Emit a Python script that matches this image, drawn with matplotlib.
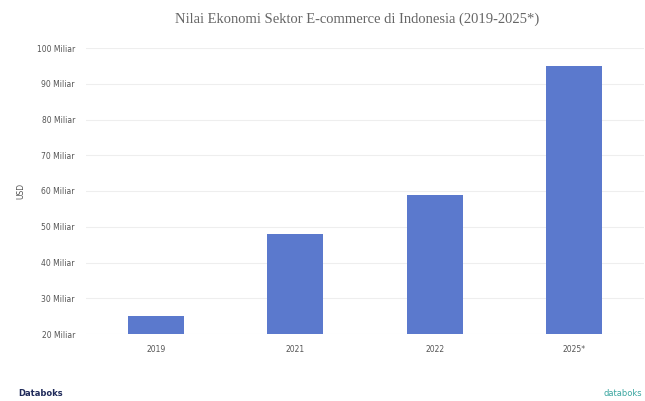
import matplotlib
matplotlib.use("Agg")
import matplotlib.pyplot as plt

years = ["2019", "2021", "2022", "2025*"]
values = [25, 48, 59, 95]
ytick_vals = [20, 30, 40, 50, 60, 70, 80, 90, 100]
ytick_labels = ["20 Miliar", "30 Miliar", "40 Miliar", "50 Miliar", "60 Miliar",
                "70 Miliar", "80 Miliar", "90 Miliar", "100 Miliar"]
title = "Nilai Ekonomi Sektor E-commerce di Indonesia (2019-2025*)"
ylabel = "USD"

fig = plt.figure(figsize=(6.45, 4.01), dpi=100)
ax = fig.add_axes([86/645, 67/401, 558/645, 286/401])
x = list(range(len(years)))
ax.bar(x, values, width=0.4, color="#5b79cd", zorder=3, bottom=0)
ax.set_xlim(-0.5, len(years) - 0.5)
ax.set_ylim(20, 100)
ax.set_yticks(ytick_vals)
ax.set_yticklabels(ytick_labels)
ax.set_xticks(x)
ax.set_xticklabels(years)
ax.tick_params(axis="both", length=0, labelsize=5.5, colors="#555555")
ax.tick_params(axis="y", pad=8)
ax.tick_params(axis="x", pad=8)
for s in ax.spines.values():
    s.set_visible(False)
ax.grid(axis="y", color="#eeeeee", linewidth=0.8, zorder=0)
ax.set_ylabel(ylabel, fontsize=5.5, color="#555555", labelpad=8)

fig.text(357/645, 1 - 19/401, title, ha="center", va="center",
         fontsize=10.5, family="Liberation Serif", color="#666666")
fig.text(18/645, 1 - 393/401, "Databoks", ha="left", va="center",
         fontsize=6, fontweight="bold", color="#1f2a5a")
fig.text(642/645, 1 - 393/401, "databoks", ha="right", va="center",
         fontsize=6, color="#3aa6a0")

fig.savefig("out.png", dpi=100)
